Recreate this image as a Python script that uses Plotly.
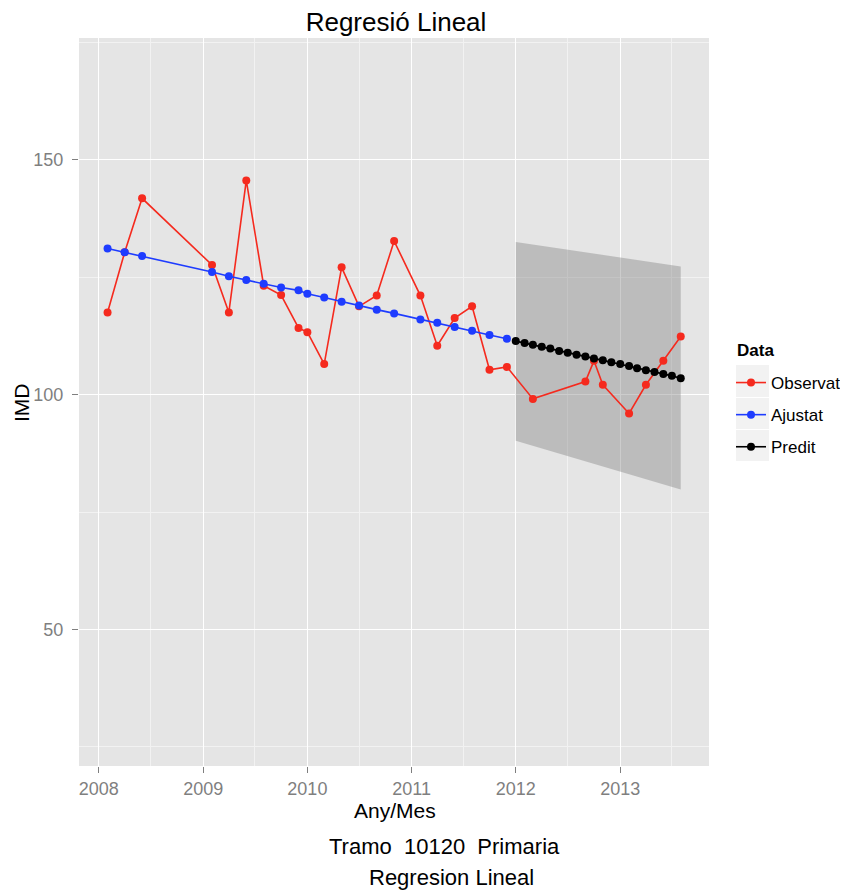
import plotly.graph_objects as go

# ---------------- data ----------------
obs_dates = ["2008-02-01", "2008-04-01", "2008-06-01", "2009-02-01", "2009-04-01",
             "2009-06-01", "2009-08-01", "2009-10-01", "2009-12-01", "2010-01-01",
             "2010-03-01", "2010-05-01", "2010-07-01", "2010-09-01", "2010-11-01",
             "2011-02-01", "2011-04-01", "2011-06-01", "2011-08-01", "2011-10-01",
             "2011-12-01", "2012-03-01", "2012-09-01", "2012-10-01", "2012-11-01",
             "2013-02-01", "2013-04-01", "2013-06-01", "2013-08-01"]
obs_values = [117.5, 130.3, 141.8, 127.6, 117.5, 145.6, 123.2, 121.2, 114.2, 113.3,
              106.5, 127.1, 118.8, 121.1, 132.7, 121.1, 110.4, 116.3, 118.8, 105.3,
              105.9, 99.1, 102.8, 107.2, 102.1, 96.0, 102.1, 107.2, 112.4]

fit_dates = obs_dates[:21]
fit_values = [131.1, 130.3, 129.5, 126.1, 125.2, 124.4, 123.6, 122.8, 122.2, 121.5,
              120.7, 119.8, 119.0, 118.1, 117.3, 116.0, 115.3, 114.4, 113.6, 112.7,
              111.9]

pred_dates = ["2012-01-01", "2012-02-01", "2012-03-01", "2012-04-01", "2012-05-01",
              "2012-06-01", "2012-07-01", "2012-08-01", "2012-09-01", "2012-10-01",
              "2012-11-01", "2012-12-01", "2013-01-01", "2013-02-01", "2013-03-01",
              "2013-04-01", "2013-05-01", "2013-06-01", "2013-07-01", "2013-08-01"]
pred_values = [111.4, 111.0, 110.6, 110.2, 109.8, 109.3, 108.9, 108.5, 108.1, 107.7,
               107.3, 106.9, 106.5, 106.1, 105.6, 105.2, 104.8, 104.4, 104.0, 103.5]

band_dates = ["2012-01-01", "2013-08-01"]
band_upper = [132.5, 127.3]
band_lower = [90.2, 79.8]

series_names = ["Observat", "Ajustat", "Predit"]
x_tick_vals = ["2008-01-01", "2009-01-01", "2010-01-01", "2011-01-01", "2012-01-01", "2013-01-01"]
x_tick_text = ["2008", "2009", "2010", "2011", "2012", "2013"]
y_tick_vals = [50, 100, 150]

# ---------------- style ----------------
FONT = "Liberation Sans, Arial, Helvetica, sans-serif"
RED = "#F52A1E"
BLUE = "#1E3CFF"
BLACK = "#000000"
TICKGREY = "#7F7F7F"

fig = go.Figure()

# prediction band
fig.add_trace(go.Scatter(
    x=band_dates + band_dates[::-1],
    y=band_upper + band_lower[::-1],
    fill="toself", fillcolor="rgba(128,128,128,0.4)",
    line=dict(width=0), mode="lines", hoverinfo="skip", showlegend=False))

fig.add_trace(go.Scatter(
    x=obs_dates, y=obs_values, mode="lines+markers", name=series_names[0],
    line=dict(color=RED, width=1.6), marker=dict(color=RED, size=8),
    legendgroup="a"))
fig.add_trace(go.Scatter(
    x=fit_dates, y=fit_values, mode="lines+markers", name=series_names[1],
    line=dict(color=BLUE, width=1.6), marker=dict(color=BLUE, size=8),
    legendgroup="b"))
fig.add_trace(go.Scatter(
    x=pred_dates, y=pred_values, mode="lines+markers", name=series_names[2],
    line=dict(color=BLACK, width=1.6), marker=dict(color=BLACK, size=8),
    legendgroup="c"))

# page offset (browser body margin)
OFF = 8
W, H = 848, 890
# plot area in page pixels: left 79, right 709, top 38, bottom 766
L, R, T, B = 79 - OFF, 709 - OFF, 38 - OFF, 766 - OFF
PW, PH = R - L, B - T


def px_x(x):
    return (x - OFF - L) / PW


def px_y(y):
    return (B - (y - OFF)) / PH


shapes = []
key_rows = [(365, 397), (398, 429), (430, 461)]
for (y0, y1) in key_rows:
    shapes.append(dict(type="rect", xref="paper", yref="paper",
                       x0=px_x(736), x1=px_x(769), y0=px_y(y1), y1=px_y(y0),
                       fillcolor="#F2F2F2", line=dict(width=0), layer="below"))

annotations = [
    dict(text="IMD", x=px_x(21), y=px_y(402), xref="paper", yref="paper",
         textangle=-90, showarrow=False, font=dict(size=21, color="black", family=FONT),
         xanchor="center", yanchor="middle"),
    dict(text="Any/Mes", x=px_x(395), y=px_y(810), xref="paper", yref="paper",
         showarrow=False, font=dict(size=21, color="black", family=FONT),
         xanchor="center", yanchor="middle"),
    dict(text="Tramo\u00a0\u00a010120\u00a0\u00a0Primaria", x=px_x(444), y=px_y(846),
         xref="paper", yref="paper", showarrow=False,
         font=dict(size=22, color="black", family=FONT), xanchor="center", yanchor="middle"),
    dict(text="Regresion Lineal", x=px_x(451), y=px_y(878), xref="paper", yref="paper",
         showarrow=False, font=dict(size=22, color="black", family=FONT),
         xanchor="center", yanchor="middle"),
    dict(text="<b>Data</b>", x=px_x(735), y=px_y(350), xref="paper", yref="paper",
         showarrow=False, font=dict(size=17, color="black", family=FONT),
         xanchor="left", yanchor="middle"),
]

fig.update_layout(
    width=W, height=H,
    margin=dict(l=L, r=W - R, t=T, b=H - B, autoexpand=False),
    paper_bgcolor="white", plot_bgcolor="#E5E5E5",
    font=dict(family=FONT, color="black"),
    title=dict(text="Regresió Lineal", x=px_x(396), xref="paper", xanchor="center",
               y=1 - (22 - OFF) / H, yref="container", yanchor="middle",
               font=dict(size=26, family=FONT, color="black")),
    showlegend=True,
    legend=dict(font=dict(size=17, family=FONT, color="black"),
                x=px_x(731), y=px_y(365), xanchor="left", yanchor="top",
                bgcolor="rgba(0,0,0,0)", tracegroupgap=7, itemwidth=30),
    shapes=shapes,
    annotations=annotations,
    xaxis=dict(type="date", range=["2007-10-24", "2013-11-08"],
               tickvals=x_tick_vals, ticktext=x_tick_text,
               showgrid=True, gridcolor="white", gridwidth=1.4,
               ticks="outside", ticklen=6, tickcolor=TICKGREY, tickwidth=1.2,
               tickfont=dict(size=18, color=TICKGREY, family=FONT),
               minor=dict(dtick="M6", tick0="2008-01-01", showgrid=True,
                          gridcolor="#F2F2F2", gridwidth=0.8, ticks=""),
               zeroline=False, showline=False, fixedrange=True),
    yaxis=dict(range=[20.94, 175.93], tickvals=y_tick_vals,
               showgrid=True, gridcolor="white", gridwidth=1.4,
               ticks="outside", ticklen=6, tickcolor=TICKGREY, tickwidth=1.2,
               ticklabelstandoff=5,
               tickfont=dict(size=18, color=TICKGREY, family=FONT),
               minor=dict(dtick=25, tick0=0, showgrid=True,
                          gridcolor="#F2F2F2", gridwidth=0.8, ticks=""),
               zeroline=False, showline=False, fixedrange=True),
)

fig.write_html("out.html")
